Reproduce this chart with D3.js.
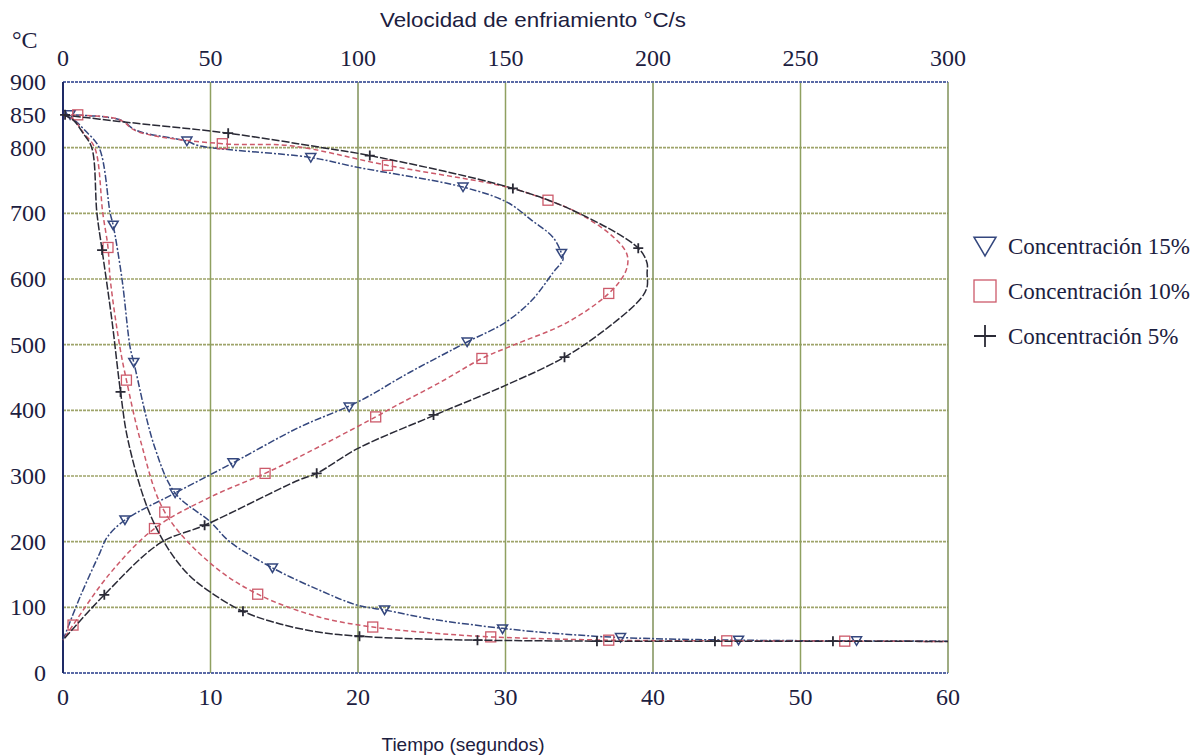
<!DOCTYPE html>
<html>
<head>
<meta charset="utf-8">
<script src="https://cdn.jsdelivr.net/npm/d3@7"></script>
<style>
  body { margin: 0; background: #fff; }
  svg text { fill: #1c2040; }
</style>
</head>
<body>
<div id="chart"></div>
<script>
// axis ticks
const timeTicks = [0, 10, 20, 30, 40, 50, 60];
const rateTicks = [0, 50, 100, 150, 200, 250, 300];
const tempTicks = [0, 100, 200, 300, 400, 500, 600, 700, 800, 850, 900];
const tempGrid = [100, 200, 300, 400, 500, 600, 700, 800];
const legendLabels = ["Concentración 15%", "Concentración 10%", "Concentración 5%"];

// cooling curves: [time s, temp C]
const cool15 = [[0,850],[0.7,843],[1.5,826],[2.45,800],[3.2,700],[3.4,682],[4.0,600],[4.55,496],[4.8,473],[6.2,345],[7.6,274],[10,230],[11.3,200],[14.2,160],[17.4,126],[20,103],[21.8,96],[25,82],[29.8,68],[33,61],[37.8,54],[45.8,50],[53.8,49],[60,48.5]];
const cool10 = [[0,850],[0.7,843],[1.4,822],[2.15,800],[2.7,700],[3.05,648],[3.2,600],[3.86,496],[4.3,446],[5.3,350],[6.9,245],[10,167],[13.2,120],[17.4,85],[21,70],[25,61],[29,55],[37,50],[45,49],[53,48.5],[60,48]];
const cool5 = [[0,850],[0.7,842],[1.36,822],[1.95,800],[2.3,700],[2.65,644],[3.3,540],[3.9,428],[4.4,355],[5.7,253],[7.05,192],[8.5,150],[10,123],[12.2,94],[14.5,76],[17.4,62],[20.1,56],[24,52],[28.1,50],[36.2,48.5],[44.2,48.5],[52.2,48.5],[60,48]];

// cooling-rate curves: [rate C/s, temp C]
const rate15 = [[0,850],[19,843],[25,826],[42,810],[46,803],[84,785],[100,770],[135.6,740],[150.5,717],[159,689],[166,664],[169,639],[169.5,630],[166,609],[159,568],[150,534],[137,504],[117.6,458],[99.6,412],[80,374],[57.6,320],[38,274],[21,233],[15,207],[12.5,183],[5.8,116],[0,50]];
const rate10 = [[0,850],[19,843],[25,825],[54,806],[77,803],[110,773],[150.5,740],[164.4,720],[174,702],[185,670],[190.5,644],[191.5,629],[190.5,609],[185,578],[171,534],[152.5,499],[142,479],[128,443],[112,405],[106,390],[80,329],[68.5,304],[50,268],[31,220],[16,152],[3.4,73],[0,50]];
const rate5 = [[0,850],[19,840],[56,822],[88,800],[104,788],[152.5,738],[174,702],[195,647],[198,624],[198,609],[198,588],[196,571],[185,527],[170,481],[150,438],[125.6,392],[100,342],[86,304],[80,294],[48,225],[33,198],[14,119],[0,50]];

// marker positions
const cool15Marks = [[3.4,682],[4.8,473],[7.6,274],[14.2,160],[21.8,96],[29.8,67],[37.8,54],[45.8,50],[53.8,49]];
const cool10Marks = [[3.05,648],[4.3,446],[6.9,245],[13.2,120],[21,70],[29,55],[37,50],[45,49],[53,48.5]];
const cool5Marks = [[2.65,644],[3.9,428],[12.2,94],[20.1,56],[28.1,50],[36.2,48.5],[44.2,48.5],[52.2,48.5]];
const rate15Marks = [[2.4,850],[42,810],[84,785],[135.6,740],[169,639],[137,504],[97,405],[57.6,320],[21,233]];
const rate10Marks = [[5,850],[54,806],[110,773],[164.4,720],[185,578],[142,479],[106,390],[68.5,304],[31,220],[3.4,73]];
const rate5Marks = [[0.7,850],[56,822],[104,788],[152.5,738],[195,647],[170,481],[125.6,393],[86,304],[48,225],[14,119]];

const series = [
  {label: legendLabels[0], color: "#34477e", dash: "7,2,2,2", cool: cool15, rate: rate15, coolMarks: cool15Marks, rateMarks: rate15Marks, symbol: "tri"},
  {label: legendLabels[1], color: "#cc5a6a", dash: "5,3", cool: cool10, rate: rate10, coolMarks: cool10Marks, rateMarks: rate10Marks, symbol: "sq"},
  {label: legendLabels[2], color: "#2a2a36", dash: "8,2", cool: cool5, rate: rate5, coolMarks: cool5Marks, rateMarks: rate5Marks, symbol: "plus"}
];

const serif = "'Liberation Serif', 'DejaVu Serif', serif";
const sans = "'Liberation Sans', 'DejaVu Sans', sans-serif";

const width = 1194, height = 756;
const plotLeft = 63, plotRight = 948, plotTop = 82, plotBottom = 673;

const svg = d3.select("#chart").append("svg")
  .attr("width", width).attr("height", height);

const x = d3.scaleLinear().domain([0, 60]).range([plotLeft, plotRight]);
const xr = d3.scaleLinear().domain([0, 300]).range([plotLeft, plotRight]);
const y = d3.scaleLinear().domain([0, 900]).range([plotBottom, plotTop]);

// grid
svg.append("g").selectAll("line").data(tempGrid).enter().append("line")
  .attr("x1", plotLeft).attr("x2", plotRight)
  .attr("y1", d => y(d)).attr("y2", d => y(d))
  .style("stroke", "#9ea46a").style("stroke-width", 1.6).style("stroke-dasharray", "3,1");

svg.append("g").selectAll("line").data(timeTicks.slice(1)).enter().append("line")
  .attr("x1", d => x(d)).attr("x2", d => x(d))
  .attr("y1", plotTop).attr("y2", plotBottom)
  .style("stroke", (d, i) => i % 2 === 0 ? "#8fa060" : "#7f9058").style("stroke-width", 1.5);

// top and bottom borders
[900, 0].forEach(v => {
  svg.append("line").attr("x1", plotLeft).attr("x2", plotRight)
    .attr("y1", y(v)).attr("y2", y(v))
    .style("stroke", "#5a6aa6").style("stroke-width", 1.8).style("stroke-dasharray", "3,1");
});
svg.append("line").attr("x1", plotLeft).attr("x2", plotLeft).attr("y1", plotTop).attr("y2", plotBottom)
  .style("stroke", "#1e2a66").style("stroke-width", 2);

// axes labels
svg.append("g").selectAll("text").data(timeTicks).enter().append("text")
  .attr("x", d => x(d)).attr("y", 705)
  .attr("text-anchor", "middle")
  .style("font-family", serif).style("font-size", "24px")
  .text(d => d);

svg.append("g").selectAll("text").data(rateTicks).enter().append("text")
  .attr("x", d => xr(d)).attr("y", 66)
  .attr("text-anchor", "middle")
  .style("font-family", serif).style("font-size", "24px")
  .text(d => d);

svg.append("g").selectAll("text").data(tempTicks).enter().append("text")
  .attr("x", 46).attr("y", d => y(d) + 8)
  .attr("text-anchor", "end")
  .style("font-family", serif).style("font-size", "24px")
  .text(d => d);

svg.append("text").attr("x", 12).attr("y", 48)
  .style("font-family", serif).style("font-size", "24px")
  .text("°C");

svg.append("text").attr("x", 533).attr("y", 27).attr("text-anchor", "middle")
  .style("font-family", sans).style("font-size", "21px")
  .attr("textLength", 306).attr("lengthAdjust", "spacingAndGlyphs")
  .text("Velocidad de enfriamiento °C/s");

svg.append("text").attr("x", 463).attr("y", 751).attr("text-anchor", "middle")
  .style("font-family", sans).style("font-size", "19px")
  .text("Tiempo (segundos)");

// curves
const lineT = d3.line().x(d => x(d[0])).y(d => y(d[1])).curve(d3.curveCatmullRom.alpha(0.5));
const lineR = d3.line().x(d => xr(d[0])).y(d => y(d[1])).curve(d3.curveCatmullRom.alpha(0.5));

function drawMarker(g, s, cx, cy, size) {
  if (s.symbol === "tri") {
    g.append("path")
      .attr("d", `M${cx - size},${cy - size * 0.8} L${cx + size},${cy - size * 0.8} L${cx},${cy + size * 0.9} Z`)
      .style("fill", "none").style("stroke", s.color).style("stroke-width", 1.5);
  } else if (s.symbol === "sq") {
    g.append("rect").attr("x", cx - size).attr("y", cy - size)
      .attr("width", size * 2).attr("height", size * 2)
      .style("fill", "none").style("stroke", s.color).style("stroke-width", 1.3);
  } else {
    g.append("path")
      .attr("d", `M${cx - size},${cy} L${cx + size},${cy} M${cx},${cy - size} L${cx},${cy + size}`)
      .style("stroke", s.color).style("stroke-width", 1.8);
  }
}

series.forEach(s => {
  const g = svg.append("g");
  g.append("path").datum(s.cool).attr("d", lineT)
    .style("fill", "none").style("stroke", s.color).style("stroke-width", 1.5).style("stroke-dasharray", s.dash);
  g.append("path").datum(s.rate).attr("d", lineR)
    .style("fill", "none").style("stroke", s.color).style("stroke-width", 1.5).style("stroke-dasharray", s.dash);
  s.coolMarks.forEach(d => drawMarker(g, s, x(d[0]), y(d[1]), 5));
  s.rateMarks.forEach(d => drawMarker(g, s, xr(d[0]), y(d[1]), 5));
});

// legend
const legend = svg.append("g");
series.forEach((s, i) => {
  const ly = 246 + i * 45;
  drawMarker(legend, s, 985, ly, 11);
  legend.append("text").attr("x", 1008).attr("y", ly + 8)
    .style("font-family", serif).style("font-size", "23px")
    .text(s.label);
});
</script>
</body>
</html>
